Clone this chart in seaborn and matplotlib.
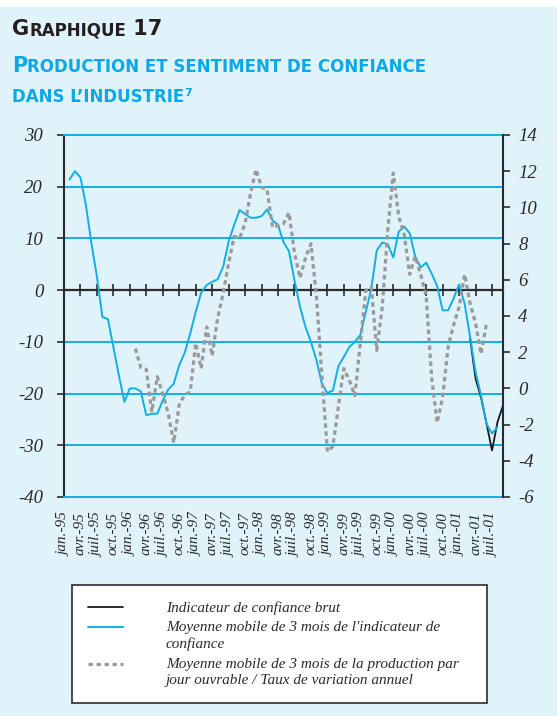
import matplotlib
matplotlib.use("Agg")
import matplotlib.pyplot as plt
from matplotlib.lines import Line2D
from matplotlib.patches import Rectangle
from matplotlib.text import Annotation
import numpy as np
import pandas as pd
import seaborn as sns

# category axis: one slot per month, jan-95 (0) .. sep-01 (80)
n_mois = 81
tick_labels = ["jan.-95", "avr.-95", "juil.-95", "oct.-95",
               "jan.-96", "avr.-96", "juil.-96", "oct.-96",
               "jan.-97", "avr.-97", "juil.-97", "oct.-97",
               "jan.-98", "avr.-98", "juil.-98", "oct.-98",
               "jan.-99", "avr.-99", "juil.-99", "oct.-99",
               "jan.-00", "avr.-00", "juil.-00", "oct.-00",
               "jan.-01", "avr.-01", "juil.-01"]

# moyenne mobile 3 mois de l'indicateur de confiance (axe gauche), fev-95 .. aout-01
conf_mm_debut = 1
conf_mm = [21.4, 23.0, 21.8, 16.4, 9.0, 2.6, -5.2, -5.6, -11.0, -16.5,
           -21.6, -19.0, -19.0, -19.6, -24.2, -23.9, -23.9, -21.3, -19.2, -18.1,
           -14.5, -12.1, -8.4, -4.2, -0.5, 1.0, 1.6, 2.1, 4.5, 9.4,
           12.6, 15.5, 14.7, 14.0, 14.0, 14.3, 15.6, 13.5, 12.6, 9.3,
           7.5, 1.9, -3.2, -7.1, -10.0, -13.5, -18.1, -19.9, -19.4, -14.7,
           -12.9, -11.0, -10.0, -8.7, -4.2, 0.3, 7.7, 9.2, 8.9, 6.3,
           11.3, 12.3, 11.0, 6.5, 4.4, 5.3, 3.2, 0.8, -3.9, -3.9,
           -1.6, 1.1, -2.6, -9.0, -15.8, -20.4, -25.9, -27.7, -26.5]

# indicateur brut (axe gauche), only the last months show up, mars-01 .. sep-01
conf_brut_debut = 74
conf_brut = [-9.3, -17.1, -20.8, -25.8, -31.0, -25.5, -22.3]

# production par jour ouvrable, mm 3 mois, taux annuel (axe droit), fev-96 .. juin-01
prod_debut = 13
prod_mm = [2.2, 1.15, 1.05, -1.3, 0.65, -0.3, -1.4, -3.0,
           -0.9, -0.35, -0.2, 2.5, 1.1, 3.4, 1.8, 3.9, 5.25, 6.9,
           8.4, 8.3, 9.1, 10.8, 12.1, 11.1, 11.0, 8.9, 9.0, 9.1,
           9.7, 7.5, 6.1, 7.2, 8.0, 5.1, 0.7, -3.5, -3.2, -1.0,
           1.1, 0.45, -0.4, 2.5, 5.4, 5.6, 2.1, 4.5, 8.75, 11.9,
           9.5, 8.5, 6.3, 7.3, 6.3, 5.1, 0.6, -1.9, -0.5, 2.3,
           3.5, 4.5, 6.3, 4.7, 3.6, 1.9, 3.6]

left_ticks = [30, 20, 10, 0, -10, -20, -30, -40]
left_labels = ["30", "20", "10", "0", "-10", "-20", "-30", "-40"]
right_ticks = [14, 12, 10, 8, 6, 4, 2, 0, -2, -4, -6]
right_labels = ["14", "12", "10", "8", "6", "4", "2", "0", "-2", "-4", "-6"]

legend_labels = ["Indicateur de confiance brut",
                 "Moyenne mobile de 3 mois de l'indicateur de\nconfiance",
                 "Moyenne mobile de 3 mois de la production par\njour ouvrable / Taux de variation annuel"]

BG = "#e0f2fa"
CYAN = "#13aee6"
TITLE_CYAN = "#0aa8e6"
DARK = "#2b2b2b"
GRAY = "#9a9a9a"
SERIF = dict(family="Liberation Serif", style="italic")
PROD_DASH = (0, (1.4, 1.1))

sns.set_style("white")

df_mm = pd.DataFrame({"mois": np.arange(conf_mm_debut, conf_mm_debut + len(conf_mm)), "val": conf_mm})
df_brut = pd.DataFrame({"mois": np.arange(conf_brut_debut, conf_brut_debut + len(conf_brut)), "val": conf_brut})
df_prod = pd.DataFrame({"mois": np.arange(prod_debut, prod_debut + len(prod_mm)), "val": prod_mm})

fig = plt.figure(figsize=(5.57, 7.16), dpi=100)
fig.patch.set_facecolor("white")
fig.patches.append(Rectangle((0, 0), 1, 1 - 7 / 716, transform=fig.transFigure,
                             facecolor=BG, edgecolor="none", zorder=-10))

ax = fig.add_axes([64 / 557, 1 - 497 / 716, 439 / 557, 362 / 716])
ax.set_facecolor(BG)
ax2 = ax.twinx()

sns.lineplot(data=df_brut, x="mois", y="val", ax=ax, color="#1a1a1a", linewidth=1.3)
sns.lineplot(data=df_mm, x="mois", y="val", ax=ax, color=CYAN, linewidth=1.4)
sns.lineplot(data=df_prod, x="mois", y="val", ax=ax2, color=GRAY, linewidth=2.3,
             linestyle=PROD_DASH)

# left axis
ax.set_xlim(0, n_mois - 1)
ax.set_ylim(-40, 30)
ax.set_yticks(left_ticks)
ax.set_yticklabels(left_labels, fontsize=13.5, color=DARK, **SERIF)
ax.tick_params(axis="y", direction="out", length=5, width=1.2, color=DARK, pad=10)
ax.grid(axis="y", color=CYAN, linewidth=1.4)
ax.grid(axis="x", visible=False)
ax.set_axisbelow(True)
ax.set_xlabel("")
ax.set_ylabel("")

tick_pos = np.arange(0, n_mois - 2, 3)
ax.set_xticks(tick_pos)
ax.set_xticklabels(tick_labels, rotation=90, fontsize=11, color=DARK, **SERIF)
ax.tick_params(axis="x", length=0, pad=11)

for side in ["top", "bottom"]:
    ax.spines[side].set_color(CYAN)
    ax.spines[side].set_linewidth(1.4)
ax.spines["left"].set_color(DARK)
ax.spines["left"].set_linewidth(1.5)
ax.spines["right"].set_visible(False)

# right axis
ax2.set_ylim(-6, 14)
ax2.set_yticks(right_ticks)
ax2.set_yticklabels(right_labels, fontsize=13.5, color=DARK, **SERIF)
ax2.tick_params(axis="y", direction="out", length=5, width=1.2, color=DARK, pad=6)
ax2.set_ylabel("")
ax2.grid(False)
for side in ["top", "bottom", "left"]:
    ax2.spines[side].set_visible(False)
ax2.spines["right"].set_color(DARK)
ax2.spines["right"].set_linewidth(1.5)

# zero line with the quarter ticks crossing it
zero = ax.secondary_xaxis(40 / 70)
zero.set_zorder(1.5)
zero.set_xticks(tick_pos)
zero.tick_params(direction="inout", length=8, width=1.2, color=DARK,
                 labeltop=False, labelbottom=False)
for sp in zero.spines.values():
    sp.set_color(DARK)
    sp.set_linewidth(1.6)

# title, small caps built from pieces
TITLE_FONT = dict(family="DejaVu Sans", weight="bold")


def small_caps(parts, x, y, color):
    txt, size = parts[0]
    prev = fig.text(x, y, txt, fontsize=size, color=color, va="baseline", **TITLE_FONT)
    for txt, size in parts[1:]:
        ann = Annotation(txt, xy=(1, y), xycoords=(prev, "figure fraction"),
                         fontsize=size, color=color, va="baseline", ha="left", **TITLE_FONT)
        fig.add_artist(ann)
        prev = ann
    return prev


small_caps([("G", 15), ("RAPHIQUE", 12), (" 17", 15)], 12 / 557, 1 - 35 / 716, "#231f20")
small_caps([("P", 15), ("RODUCTION ET SENTIMENT DE CONFIANCE", 12)], 12 / 557, 1 - 72 / 716, TITLE_CYAN)
last = small_caps([("DANS L\u2019INDUSTRIE", 12)], 12 / 557, 1 - 102 / 716, TITLE_CYAN)
fig.add_artist(Annotation("7", xy=(1, 1 - 96 / 716), xycoords=(last, "figure fraction"),
                          fontsize=8, color=TITLE_CYAN, va="baseline", ha="left", **TITLE_FONT))

# legend box below the chart
handles = [Line2D([], [], color="#1a1a1a", linewidth=1.3),
           Line2D([], [], color=CYAN, linewidth=1.4),
           Line2D([], [], color=GRAY, linewidth=2.3, linestyle=PROD_DASH)]
leg = fig.legend(handles, legend_labels, loc="upper left",
                 bbox_to_anchor=(72 / 557, 1 - 585 / 716, 415 / 557, 0), mode="expand",
                 borderaxespad=0, borderpad=1.05, handlelength=2.3, handletextpad=2.8,
                 handleheight=1.0, labelspacing=0.4, fancybox=False, framealpha=1,
                 facecolor="white", edgecolor=DARK, prop=dict(size=11, **SERIF),
                 labelcolor=DARK)
leg.get_frame().set_linewidth(1.2)
for t in leg.get_texts():
    t.set_linespacing(1.35)
# handles sit on the first line of each entry, not in the middle
for col in leg._legend_handle_box.get_children():
    for row in col.get_children():
        row.align = "top"

fig.savefig("out.png", dpi=100, facecolor=fig.get_facecolor())
